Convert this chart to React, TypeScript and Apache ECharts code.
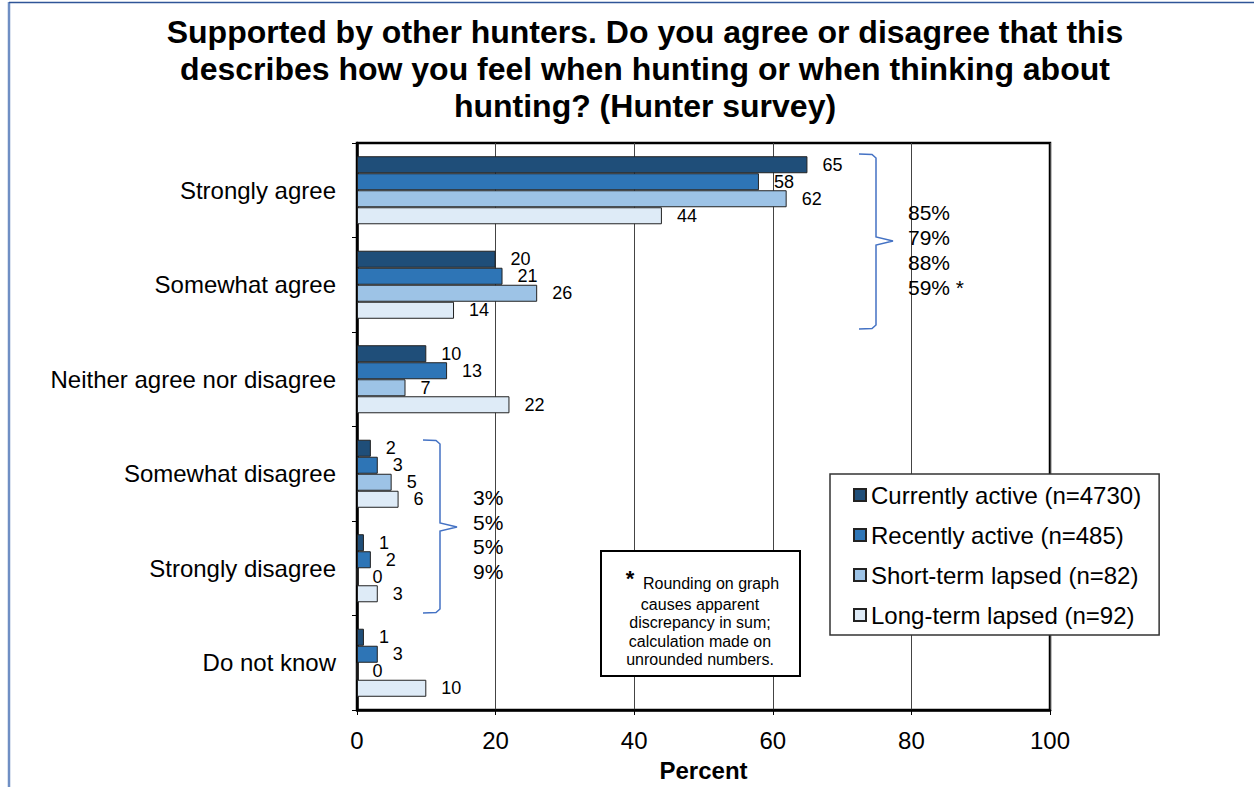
import React, { useEffect, useRef } from "react";
import * as echarts from "echarts";

// Response categories (top to bottom)
const categories = [
  "Strongly agree",
  "Somewhat agree",
  "Neither agree nor disagree",
  "Somewhat disagree",
  "Strongly disagree",
  "Do not know",
];

// Hunter groups
const groups = [
  "Currently active (n=4730)",
  "Recently active (n=485)",
  "Short-term lapsed (n=82)",
  "Long-term lapsed (n=92)",
];

// Percent of each group giving each response
const currentlyActive = [65, 20, 10, 2, 1, 1];
const recentlyActive = [58, 21, 13, 3, 2, 3];
const shortTermLapsed = [62, 26, 7, 5, 0, 0];
const longTermLapsed = [44, 14, 22, 6, 3, 10];

const groupColors = ["#1f4e79", "#2e75b6", "#9dc3e6", "#deebf7"];

// Combined totals shown beside the braces
const agreeTotals = ["85%", "79%", "88%", "59% *"];
const disagreeTotals = ["3%", "5%", "5%", "9%"];

const xTicks = { min: 0, max: 100, interval: 20 };

const FONT = "Liberation Sans, Arial, sans-serif";

export default function App() {
  const ref = useRef<HTMLDivElement>(null);

  useEffect(() => {
    if (!ref.current) return;
    const chart = echarts.init(ref.current, undefined, { renderer: "svg" });
    const seriesData = [currentlyActive, recentlyActive, shortTermLapsed, longTermLapsed];

    const braceStyle = { stroke: "#4472c4", lineWidth: 1.5, fill: null };

    chart.setOption({
      animation: false,
      backgroundColor: "#ffffff",
      textStyle: { fontFamily: FONT },
      grid: {
        left: 357,
        right: 204,
        top: 143,
        bottom: 72,
        show: true,
        borderColor: "#000",
        borderWidth: 2.5,
      },
      legend: {
        data: groups,
        orient: "vertical",
        left: 830,
        top: 474,
        itemWidth: 12,
        itemHeight: 12,
        itemGap: 14,
        padding: [8, 18, 7, 23],
        backgroundColor: "#ffffff",
        borderColor: "#333",
        borderWidth: 1.5,
        borderRadius: 0,
        icon: "rect",
        textStyle: { fontSize: 24, color: "#000", lineHeight: 26, fontFamily: FONT },
        z: 10,
      },
      xAxis: {
        type: "value",
        min: xTicks.min,
        max: xTicks.max,
        interval: xTicks.interval,
        name: "Percent",
        nameLocation: "middle",
        nameGap: 48,
        nameTextStyle: { fontSize: 24, fontWeight: "bold", color: "#000", fontFamily: FONT },
        axisLine: { show: true, lineStyle: { color: "#000", width: 2.5 } },
        axisTick: { show: true, length: 5, lineStyle: { color: "#000", width: 1 } },
        axisLabel: { fontSize: 24, color: "#000", margin: 18, fontFamily: FONT },
        splitLine: { show: true, lineStyle: { color: "#444", width: 1 } },
      },
      yAxis: {
        type: "category",
        data: categories,
        inverse: true,
        axisLine: { show: true, lineStyle: { color: "#000", width: 2.5 } },
        axisTick: { show: true, length: 5, lineStyle: { color: "#000", width: 1 } },
        axisLabel: { fontSize: 24, color: "#000", margin: 21, fontFamily: FONT },
        splitLine: { show: false },
      },
      series: groups.map((name, i) => ({
        name,
        type: "bar",
        data: seriesData[i],
        barGap: "0%",
        barCategoryGap: "28%",
        itemStyle: { color: groupColors[i], borderColor: "#222", borderWidth: 1 },
        label: {
          show: true,
          position: "right",
          distance: 15,
          fontSize: 18,
          color: "#000",
          fontFamily: FONT,
        },
      })),
      graphic: [
        // page frame
        { type: "line", shape: { x1: 9, y1: 2, x2: 9, y2: 787 }, style: { stroke: "#6f8fc4", lineWidth: 2.5 } },
        { type: "line", shape: { x1: 9, y1: 2.5, x2: 1254, y2: 2.5 }, style: { stroke: "#2f5597", lineWidth: 1.5 } },
        {
          type: "text",
          x: 645,
          y: 13,
          style: {
            text:
              "Supported by other hunters. Do you agree or disagree that this\ndescribes how you feel when hunting or when thinking about\nhunting? (Hunter survey)",
            font: `bold 32px ${FONT}`,
            fill: "#000",
            textAlign: "center",
            textVerticalAlign: "top",
            lineHeight: 37,
          },
        },
        // brace for agree responses
        {
          type: "polyline",
          z: 20,
          shape: {
            points: [
              [859, 154], [872, 154.5], [876, 158], [876, 237], [893, 241],
              [876, 245], [876, 325], [872, 328.5], [859, 329],
            ],
          },
          style: braceStyle,
        },
        {
          type: "text",
          x: 908,
          y: 200,
          z: 20,
          style: {
            text: agreeTotals.join("\n"),
            font: `21px ${FONT}`,
            fill: "#000",
            lineHeight: 25,
            textVerticalAlign: "top",
          },
        },
        // brace for disagree responses
        {
          type: "polyline",
          z: 20,
          shape: {
            points: [
              [423, 440], [436, 440.5], [440, 444], [440, 523], [457, 527],
              [440, 531], [440, 609], [436, 612.5], [423, 613],
            ],
          },
          style: braceStyle,
        },
        {
          type: "text",
          x: 473,
          y: 485,
          z: 20,
          style: {
            text: disagreeTotals.join("\n"),
            font: `21px ${FONT}`,
            fill: "#000",
            lineHeight: 24.7,
            textVerticalAlign: "top",
          },
        },
        // rounding note
        {
          type: "rect",
          z: 20,
          shape: { x: 601, y: 551, width: 199, height: 125 },
          style: { fill: "#fff", stroke: "#000", lineWidth: 2 },
        },
        {
          type: "text",
          z: 21,
          x: 630,
          y: 578,
          style: { text: "*", font: `bold 22px ${FONT}`, fill: "#000", textAlign: "center", textVerticalAlign: "middle" },
        },
        {
          type: "text",
          z: 21,
          x: 711,
          y: 583,
          style: { text: "Rounding on graph", font: `16px ${FONT}`, fill: "#000", textAlign: "center", textVerticalAlign: "middle" },
        },
        {
          type: "text",
          z: 21,
          x: 700,
          y: 595,
          style: {
            text: "causes apparent\ndiscrepancy in sum;\ncalculation made on\nunrounded numbers.",
            font: `16px ${FONT}`,
            fill: "#000",
            textAlign: "center",
            textVerticalAlign: "top",
            lineHeight: 18.5,
          },
        },
      ],
    });

    return () => chart.dispose();
  }, []);

  return (
    <div
      ref={ref}
      style={{ position: "fixed", left: 0, top: 0, width: 1254, height: 787, background: "#fff" }}
    />
  );
}
